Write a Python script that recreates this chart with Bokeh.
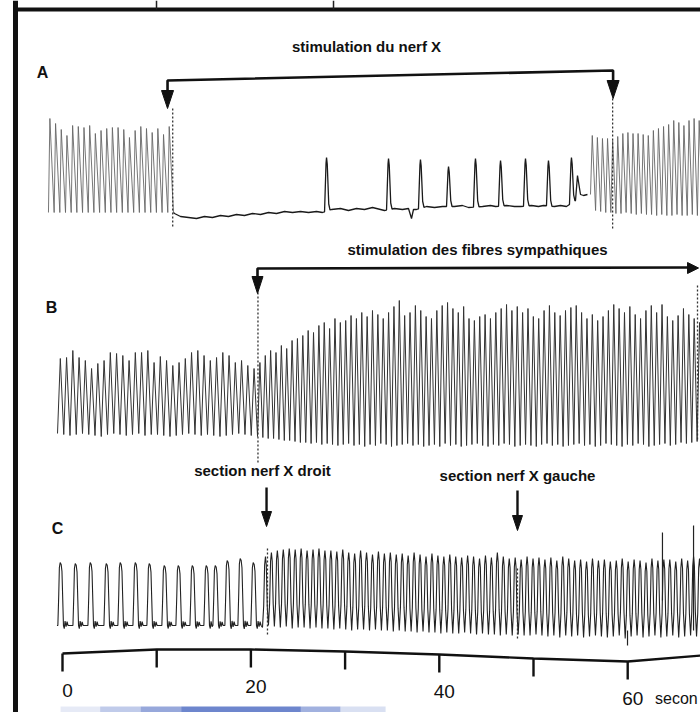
import numpy as np
from bokeh.plotting import figure
from bokeh.models import Range1d, Span
from bokeh.core.properties import value
from bokeh.embed import file_html
from bokeh.resources import INLINE

PX = 1 / 9.42  # seconds of recording per pixel of paper (used only for glyph shapes)

# ---------------- data ----------------
# time scale (seconds)
TICKS_S = [0, 10, 20, 30, 40, 50, 60]
TICK_LABELS = ["0", "20", "40", "60"]
TICK_LABEL_S = [0, 20, 40, 60]
AXIS_T = [0, 10, 20, 30, 40, 50, 60, 67.8]
AXIS_Y = [653, 649, 649, 651, 654, 658, 661, 655]
UNIT_TEXT = ["secon"]          # word is cut by the page edge in the reference
UNIT_T = [62.9]

PANEL_LABELS = ["A", "B", "C"]
PANEL_LABEL_T = [-2.12, -1.17, -0.53]
PANEL_LABEL_Y = [72, 307, 528]

ANNOT_TEXT = ["stimulation du nerf X", "stimulation des fibres sympathiques",
              "section nerf X droit", "section nerf X gauche"]
ANNOT_T = [32.27, 44.06, 21.23, 48.30]
ANNOT_Y = [46, 249, 470, 475]

# trace A (heights above the A reference line)
A_LEFT_SPAN = [-1.49, 11.78]
A_LEFT_PEAK = [94, 89, 83, 77, 87, 86, 85, 87, 79, 82, 84, 85, 85, 83, 75, 82, 86, 84, 80, 84, 78, 86]
A_SLOW_T = [11.89, 12.53, 13.38, 14.23, 15.07, 15.92, 16.77, 17.62, 18.47, 19.32,
            20.17, 21.02, 21.87, 22.72, 23.57, 24.42, 25.27, 26.12, 26.96, 27.60,
            28.56, 29.51, 30.36, 31.21, 32.06, 32.91, 33.76, 34.18,
            35.25, 36.09, 36.73, 37.05, 37.26, 37.58, 38.64, 39.49, 40.34,
            41.61, 42.46, 43.10, 44.59, 45.44, 45.97, 47.14, 47.98, 48.62,
            49.79, 50.53, 51.06, 52.23, 52.87, 53.50, 54.46, 54.67, 54.99, 55.31, 55.73]
A_SLOW_H = [-1, -4, -5, -6, -4, -5, -3, -4, -2, -3,
            -1, -2, 0, -1, 1, 0, 1, 0, 1, 0,
            3, 4, 2, 4, 3, 5, 3, 2,
            4, 3, 4, -6, 3, 3, 6, 5, 6,
            6, 7, 5, 6, 7, 6, 7, 6, 6,
            7, 6, 7, 6, 7, 6, 12, 37, 18, 17, 18]
A_BEAT_T = [28.03, 34.61, 38.00, 40.98, 43.84, 46.50, 49.15, 51.59, 54.03]
A_BEAT_H = [55, 54, 53, 46, 54, 52, 54, 52, 55]
A_RIGHT_SPAN = [56.05, 67.94]
A_RIGHT_PEAK = [77, 75, 74, 74, 72, 76, 79, 80, 79, 79, 78, 77, 82, 84, 86, 88, 92, 90, 87, 92, 94, 92]
A_RIGHT_TROUGH = [18, 2, 1, 0, 0, -1, -1, 0, -1, -2, -1, -2, -2, -3, -2, -3, -3, -2, -3, -3, -2, -3]

# trace B
B_LEFT_SPAN = [-0.53, 20.70]
B_LEFT_PEAK = [76, 77, 84, 77, 74, 66, 71, 74, 82, 81, 79, 74, 82, 82, 84, 72,
               78, 74, 69, 72, 76, 82, 84, 79, 74, 77, 82, 79, 72, 74, 69, 66]
B_LEFT_TROUGH = [1, 0, -1, 0, 1, 0, -1, -2, 0, 1, 0, -1, 0, 1, -1, 0,
                 0, -1, -2, -1, 0, 1, 0, -1, 0, -1, -2, -1, 0, 1, 0, -1]
B_RIGHT_SPAN = [20.70, 67.94]
B_RIGHT_PEAK = [72, 79, 84, 82, 89, 86, 94, 96,
                99, 104, 102, 109, 112, 106, 116, 112,
                114, 119, 116, 122, 118, 124, 120, 116,
                122, 128, 134, 119, 122, 129, 124, 118,
                116, 124, 129, 132, 126, 122, 128, 116,
                114, 118, 120, 116, 122, 126, 130, 124,
                128, 122, 126, 118, 116, 124, 129, 122,
                119, 124, 127, 129, 122, 116, 120, 114,
                118, 124, 130, 126, 122, 128, 120, 116,
                124, 129, 122, 130, 118, 114, 119,
                126, 120, 116, 112]
B_RIGHT_TROUGH = [-2, -3, -4, -4, -5, -6, -6, -7, -8, -8,
                  -9, -8, -10, -9, -10, -11, -10, -9, -11, -10,
                  -12, -10, -11, -9, -10, -12, -11, -10, -9, -11,
                  -10, -12, -11, -10, -12, -9, -11, -10, -12, -11,
                  -10, -9, -11, -12, -10, -11, -9, -10, -12, -11,
                  -10, -11, -12, -10, -9, -11, -10, -12, -11, -10,
                  -9, -11, -10, -12, -11, -9, -10, -11, -12, -10,
                  -11, -9, -10, -12, -11, -10, -9, -11, -10, -8,
                  -9, -8, -7]

# trace C
C_LEFT_T = [-0.11, 1.49, 3.08, 4.78, 6.26, 7.86, 9.34, 10.93, 12.42, 13.91, 15.39, 16.35, 17.62, 19.00, 20.38]
C_LEFT_H = [63, 62, 63, 62, 63, 63, 62, 60, 60, 60, 60, 60, 65, 67, 63]
C_RIGHT_SPAN = [21.23, 67.94]
C_RIGHT_PEAK = [69, 73, 75, 76, 77, 76, 77, 75, 76, 77, 75,
                75, 74, 76, 73, 72, 75, 73, 71, 74, 72, 73, 71,
                72, 70, 73, 71, 69, 72, 70, 69, 71, 69, 68, 70,
                69, 67, 70, 68, 73, 69, 67, 68, 66, 69, 67, 68,
                66, 68, 65, 69, 67, 65, 66, 64, 67, 65, 66, 64,
                65, 67, 64, 66, 65, 63, 67, 65, 66, 66, 64, 67, 65, 69, 67]
C_RIGHT_TROUGH = [-2, 0, -1, -2, -1, -3, -2, -2, -3, -2, -3,
                  -3, -4, -3, -4, -5, -4, -4, -5, -4, -5, -5, -6,
                  -5, -6, -6, -7, -6, -7, -7, -8, -7, -8, -8, -7,
                  -8, -9, -8, -9, -9, -10, -9, -10, -9, -10, -10, -9,
                  -10, -11, -10, -12, -10, -11, -10, -12, -11, -10, -11, -12,
                  -11, -10, -13, -11, -10, -12, -11, -10, -12, -11, -10, -12, -11, -10, -11]
C_MARK_T = [59.98, 63.69, 66.99]
C_MARK_Y0 = [630, 600, 630]
C_MARK_Y1 = [645, 532, 525]

# events
A_STIM_T = [11.15, 58.45]
A_BRACKET_Y = [80, 70]
A_TIP_Y = [108, 98]
B_STIM_T = [20.70, 67.52]
B_BRACKET_Y = 268
B_TIP_Y = 293
SECTION_T = [21.66, 48.30]
SECTION_TOP = [487, 490]
SECTION_TIP = [526, 530]
DOT_T = [11.70, 58.40, 20.75, 67.41, 21.76, 48.30]
DOT_Y0 = [108, 98, 292, 285, 548, 568]
DOT_Y1 = [228, 228, 462, 440, 636, 640]

# scanned page details (frame, ruling above, blue smear at bottom)
FRAME_LEFT_T = -4.99
FRAME_TOP_Y = 9
TOP_RULE_T = [9.98, 28.77]
SMEAR_T0 = [-0.2, 4.0, 8.3, 12.6, 25.3, 29.5]
SMEAR_T1 = [4.0, 8.3, 12.6, 25.3, 29.5, 34.3]
SMEAR_ALPHA = [0.12, 0.3, 0.5, 0.7, 0.45, 0.18]

A_ROW, B_ROW, C_ROW = 212, 434, 625


# ---------------- helpers ----------------
def dense(span, peaks, troughs, rise):
    t0, t1 = span
    n = len(peaks)
    P = (t1 - t0) / n
    if np.isscalar(troughs):
        troughs = [troughs] * n
    xs, ys = [], []
    for i in range(n):
        s = t0 + i * P
        xs += [s, s + rise * P]
        ys += [troughs[i], peaks[i]]
    xs.append(t1)
    ys.append(troughs[-1])
    return xs, ys


def rounded(span, peaks, troughs):
    t0, t1 = span
    n = len(peaks)
    P = (t1 - t0) / n
    fr = [0, 0.2, 0.36, 0.5, 0.64, 0.8]
    lv = [0, 0.3, 0.88, 1.0, 0.88, 0.3]
    xs, ys = [], []
    for i in range(n):
        s = t0 + i * P
        for f, l in zip(fr, lv):
            xs.append(s + f * P)
            ys.append(troughs[i] + l * (peaks[i] - troughs[i]))
    xs.append(t1)
    ys.append(troughs[-1])
    return xs, ys


p = figure(width=700, height=712, x_range=Range1d(-62 * PX, 638 * PX), y_range=Range1d(712, 0),
           output_backend="svg", toolbar_location=None, x_axis_location=None,
           y_axis_location=None, min_border=0, outline_line_color=None,
           background_fill_color="white", border_fill_color="white")
p.grid.visible = False

# frame of the scanned page
p.add_layout(Span(location=FRAME_LEFT_T, dimension="height", line_color="#111", line_width=5))
p.segment(x0=[FRAME_LEFT_T], y0=[FRAME_TOP_Y], x1=[70], y1=[FRAME_TOP_Y], line_color="#111", line_width=4)
p.segment(x0=TOP_RULE_T, y0=[0, 0], x1=TOP_RULE_T, y1=[FRAME_TOP_Y] * 2, line_color="#222", line_width=1.5)
p.quad(left=SMEAR_T0, right=SMEAR_T1, top=[706] * 6, bottom=[712] * 6,
       fill_color="#2f52b8", fill_alpha=SMEAR_ALPHA, line_color=None)

# ---- trace A ----
xl, yl = dense(A_LEFT_SPAN, A_LEFT_PEAK, 0, 0.25)
p.line(xl, [A_ROW - v for v in yl], line_color="#666", line_width=0.9)
bt, bh = np.array(A_SLOW_T), np.array(A_SLOW_H)
pts = list(zip(A_SLOW_T, A_SLOW_H))
for t, h in zip(A_BEAT_T, A_BEAT_H):
    b0 = float(np.interp(t - 2 * PX, bt, bh))
    b1 = float(np.interp(t + 3.5 * PX, bt, bh))
    pts += [(t - 2 * PX, b0), (t - 0.5 * PX, 0.9 * h), (t, h), (t + 0.7 * PX, 0.88 * h),
            (t + 2.2 * PX, b1 + 6), (t + 3.5 * PX, b1)]
pts.sort()
p.line([A_LEFT_SPAN[1]] + [q[0] for q in pts], [A_ROW] + [A_ROW - q[1] for q in pts],
       line_color="#1a1a1a", line_width=1.3)
xr, yr = dense(A_RIGHT_SPAN, A_RIGHT_PEAK, A_RIGHT_TROUGH, 0.35)
p.line(xr, [A_ROW - v for v in yr], line_color="#666", line_width=0.9)

# ---- trace B ----
xb, yb = dense(B_LEFT_SPAN, B_LEFT_PEAK, B_LEFT_TROUGH, 0.45)
xb2, yb2 = dense(B_RIGHT_SPAN, B_RIGHT_PEAK, B_RIGHT_TROUGH, 0.45)
p.line(xb + xb2, [B_ROW - v for v in yb + yb2], line_color="#333", line_width=1)

# ---- trace C ----
shape = [(-3.6, 0.0), (-2.7, 0.5), (-2.1, 0.92), (-1.3, 1.0), (-0.3, 0.97), (0.5, 0.86),
         (1.3, 0.4), (2.0, 0.0), (2.8, -0.05), (3.6, 0.07), (4.6, -0.02), (5.6, 0.06), (6.6, 0.0)]
cx, cy = [C_LEFT_T[0] - 4.5 * PX], [0.0]
for i, (t, h) in enumerate(zip(C_LEFT_T, C_LEFT_H)):
    nxt = C_LEFT_T[i + 1] - 3.6 * PX if i + 1 < len(C_LEFT_T) else C_RIGHT_SPAN[0]
    for dx, f in shape:
        tt = t + dx * PX
        if tt < nxt:
            cx.append(tt)
            cy.append(f * h)
cx2, cy2 = rounded(C_RIGHT_SPAN, C_RIGHT_PEAK, C_RIGHT_TROUGH)
p.line(cx + cx2, [C_ROW - v for v in cy + cy2], line_color="#222", line_width=1.1)
p.segment(x0=C_MARK_T, y0=C_MARK_Y0, x1=C_MARK_T, y1=C_MARK_Y1, line_color="#222", line_width=1.2)

# ---- dotted event lines ----
p.segment(x0=DOT_T, y0=DOT_Y0, x1=DOT_T, y1=DOT_Y1, line_color="#333", line_width=1.3,
          line_dash="2 2")

# ---- brackets and arrows ----
HL, HW = 18, 12  # arrow head length / width (px)
p.line([A_STIM_T[0], A_STIM_T[0], A_STIM_T[1], A_STIM_T[1]],
       [A_TIP_Y[0] - HL, A_BRACKET_Y[0], A_BRACKET_Y[1], A_TIP_Y[1] - HL],
       line_color="#111", line_width=2.6)
heads_x, heads_y = [], []
for t, tip in zip(A_STIM_T, A_TIP_Y):
    heads_x.append([t - HW / 2 * PX, t + HW / 2 * PX, t])
    heads_y.append([tip - HL, tip - HL, tip])
# B bracket
p.line([B_STIM_T[0], B_STIM_T[0], B_STIM_T[1] - 10 * PX],
       [B_TIP_Y - 16, B_BRACKET_Y, B_BRACKET_Y - 1], line_color="#111", line_width=2.6)
heads_x.append([B_STIM_T[0] - 5.5 * PX, B_STIM_T[0] + 5.5 * PX, B_STIM_T[0]])
heads_y.append([B_TIP_Y - 17, B_TIP_Y - 17, B_TIP_Y])
heads_x.append([B_STIM_T[1] - 11 * PX, B_STIM_T[1] - 11 * PX, B_STIM_T[1]])
heads_y.append([B_BRACKET_Y - 6, B_BRACKET_Y + 5, B_BRACKET_Y - 0.5])
# C section arrows
p.segment(x0=SECTION_T, y0=SECTION_TOP, x1=SECTION_T, y1=[v - 14 for v in SECTION_TIP],
          line_color="#111", line_width=2.4)
for t, tip in zip(SECTION_T, SECTION_TIP):
    heads_x.append([t - 5 * PX, t + 5 * PX, t])
    heads_y.append([tip - 15, tip - 15, tip])
p.patches(heads_x, heads_y, fill_color="#111", line_color="#111", line_width=1)

# ---- time scale ----
p.line(AXIS_T, AXIS_Y, line_color="#111", line_width=2.4)
tick_y = [float(np.interp(t, AXIS_T, AXIS_Y)) for t in TICKS_S]
p.segment(x0=TICKS_S, y0=tick_y, x1=TICKS_S, y1=[v + 18 for v in tick_y],
          line_color="#111", line_width=2.4)
lab_y = [float(np.interp(t, AXIS_T, AXIS_Y)) + 37 for t in TICK_LABEL_S]
p.text(x=TICK_LABEL_S, y=lab_y, text=TICK_LABELS, x_offset=5,
       text_font=value("Liberation Sans"), text_font_size="19px",
       text_align="center", text_baseline="middle", text_color="#111")
p.text(x=UNIT_T, y=[lab_y[-1]], text=UNIT_TEXT,
       text_font=value("Liberation Sans"), text_font_size="16px",
       text_align="left", text_baseline="middle", text_color="#111")

# ---- texts ----
p.text(x=ANNOT_T, y=ANNOT_Y, text=ANNOT_TEXT, text_font=value("Liberation Sans"),
       text_font_style="bold", text_font_size="15px", text_align="center",
       text_baseline="middle", text_color="#111")
p.text(x=PANEL_LABEL_T, y=PANEL_LABEL_Y, text=PANEL_LABELS, text_font=value("Liberation Sans"),
       text_font_style="bold", text_font_size="16px", text_align="center",
       text_baseline="middle", text_color="#111")

open("out.html", "w").write(file_html(p, INLINE))
